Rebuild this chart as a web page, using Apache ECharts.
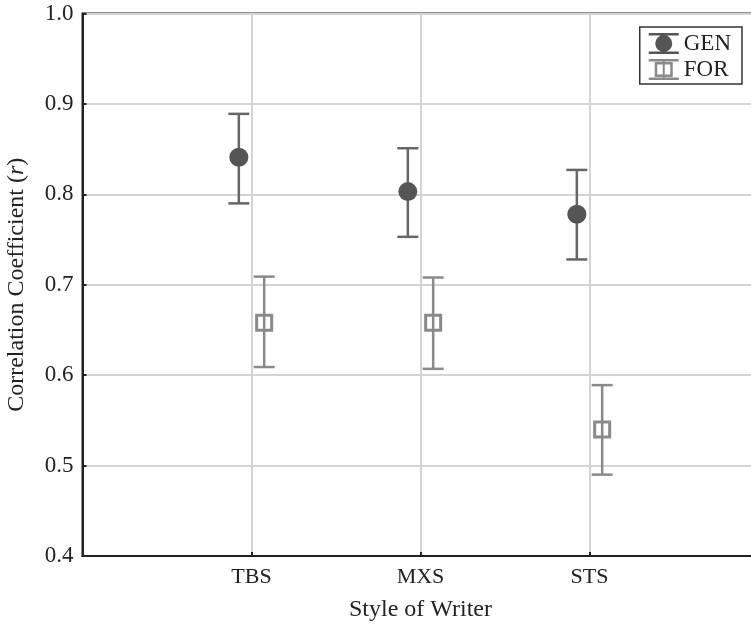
<!DOCTYPE html>
<html>
<head>
<meta charset="utf-8">
<script src="https://cdn.jsdelivr.net/npm/echarts@6/dist/echarts.min.js"></script>
<style>html,body{margin:0;padding:0;background:#fff;}#c{width:751px;height:630px;}</style>
</head>
<body>
<div id="c"></div>
<script>
const categories = ['TBS', 'MXS', 'STS'];
const genMean = [0.841, 0.803, 0.778];
const genLow  = [0.790, 0.753, 0.728];
const genHigh = [0.889, 0.851, 0.827];
const forMean = [0.658, 0.658, 0.540];
const forLow  = [0.609, 0.607, 0.490];
const forHigh = [0.709, 0.708, 0.589];

const groupOffset = 0.075;
const FONT = '"Liberation Serif", "DejaVu Serif", serif';
const GEN_COLOR = '#555555';
const GEN_BAR = '#666666';
const FOR_COLOR = '#8a8a8a';

const genPts = genMean.map((v, i) => [i + 1 - groupOffset, v]);
const forPts = forMean.map((v, i) => [i + 1 + groupOffset, v]);
const genBars = genMean.map((v, i) => [i + 1 - groupOffset, genLow[i], genHigh[i]]);
const forBars = forMean.map((v, i) => [i + 1 + groupOffset, forLow[i], forHigh[i]]);

function errRender(color) {
  return function (params, api) {
    const x = api.value(0), lo = api.value(1), hi = api.value(2);
    const p1 = api.coord([x, hi]), p2 = api.coord([x, lo]);
    const hw = 10.5;
    const st = { stroke: color, lineWidth: 2.5 };
    return {
      type: 'group',
      children: [
        { type: 'line', shape: { x1: p1[0], y1: p1[1], x2: p2[0], y2: p2[1] }, style: st },
        { type: 'line', shape: { x1: p1[0] - hw, y1: p1[1], x2: p1[0] + hw, y2: p1[1] }, style: st },
        { type: 'line', shape: { x1: p2[0] - hw, y1: p2[1], x2: p2[0] + hw, y2: p2[1] }, style: st }
      ]
    };
  };
}

const genIcon = 'path://M0,0L30,0L30,2.5L0,2.5Z M0,18.5L30,18.5L30,21L0,21Z M14,0L16,0L16,21L14,21Z M6.5,10.5A8.5,8.5 0 1 1 23.5,10.5A8.5,8.5 0 1 1 6.5,10.5Z';
const forIcon = 'path://M0,0L30,0L30,2.5L0,2.5Z M0,18.5L30,18.5L30,21L0,21Z M14,0L16,0L16,21L14,21Z M6,3L24,3L24,5.5L6,5.5Z M6,15.5L24,15.5L24,18L6,18Z M6,3L8.5,3L8.5,18L6,18Z M21.5,3L24,3L24,18L21.5,18Z';

const chart = echarts.init(document.getElementById('c'), null, { renderer: 'canvas' });
chart.setOption({
  animation: false,
  backgroundColor: '#fff',
  textStyle: { fontFamily: FONT },
  grid: {
    left: 82.5, top: 13.5, bottom: 74, right: -7.5,
    outerBoundsMode: 'none', containLabel: false,
    show: true, borderColor: '#222', borderWidth: 2, backgroundColor: 'transparent'
  },
  legend: {
    right: 9, top: 27,
    orient: 'vertical',
    itemWidth: 30, itemHeight: 21, itemGap: 3,
    padding: [5, 11, 3, 9],
    borderColor: '#333', borderWidth: 1.5,
    backgroundColor: '#fff',
    textStyle: { fontFamily: FONT, fontSize: 23, color: '#222' },
    data: [
      { name: 'GEN', icon: genIcon, itemStyle: { color: GEN_COLOR, borderWidth: 0 } },
      { name: 'FOR', icon: forIcon, itemStyle: { color: FOR_COLOR, borderWidth: 0 } }
    ]
  },
  xAxis: {
    type: 'value', min: 0, max: 4, interval: 1,
    name: 'Style of Writer', nameLocation: 'middle', nameGap: 42,
    nameTextStyle: { fontFamily: FONT, fontSize: 24, color: '#222' },
    axisLine: { show: true, lineStyle: { color: '#222', width: 2 } },
    axisTick: { show: true, inside: true, length: 4, lineStyle: { color: '#222', width: 2 } },
    axisLabel: {
      margin: 10, fontFamily: FONT, fontSize: 22, color: '#222',
      formatter: v => categories[v - 1] || ''
    },
    splitLine: { show: true, lineStyle: { color: '#d4d4d4', width: 2 } }
  },
  yAxis: {
    type: 'value', min: 0.4, max: 1.0, interval: 0.1,
    name: 'Correlation Coefficient ({i|r})', nameLocation: 'middle', nameGap: 54,
    nameTextStyle: {
      fontFamily: FONT, fontSize: 24, color: '#222',
      rich: { i: { fontFamily: FONT, fontSize: 24, fontStyle: 'italic', color: '#222' } }
    },
    axisLine: { show: true, lineStyle: { color: '#222', width: 2 } },
    axisTick: { show: true, inside: true, length: 4, lineStyle: { color: '#222', width: 2 } },
    axisLabel: {
      margin: 9, fontFamily: FONT, fontSize: 23, color: '#222',
      formatter: v => v.toFixed(1)
    },
    splitLine: { show: true, lineStyle: { color: '#d4d4d4', width: 2 } }
  },
  series: [
    {
      name: 'GEN-err', type: 'custom', data: genBars, z: 3,
      encode: { x: 0, y: [1, 2] }, renderItem: errRender(GEN_BAR)
    },
    {
      name: 'FOR-err', type: 'custom', data: forBars, z: 3,
      encode: { x: 0, y: [1, 2] }, renderItem: errRender(FOR_COLOR)
    },
    {
      name: 'GEN', type: 'scatter', data: genPts, z: 4,
      symbol: 'circle', symbolSize: 19,
      itemStyle: { color: GEN_COLOR, opacity: 1 }
    },
    {
      name: 'FOR', type: 'scatter', data: forPts, z: 4,
      symbol: 'rect', symbolSize: 15,
      itemStyle: { color: 'rgba(0,0,0,0)', borderColor: FOR_COLOR, borderWidth: 3, opacity: 1 }
    }
  ]
});
</script>
</body>
</html>
